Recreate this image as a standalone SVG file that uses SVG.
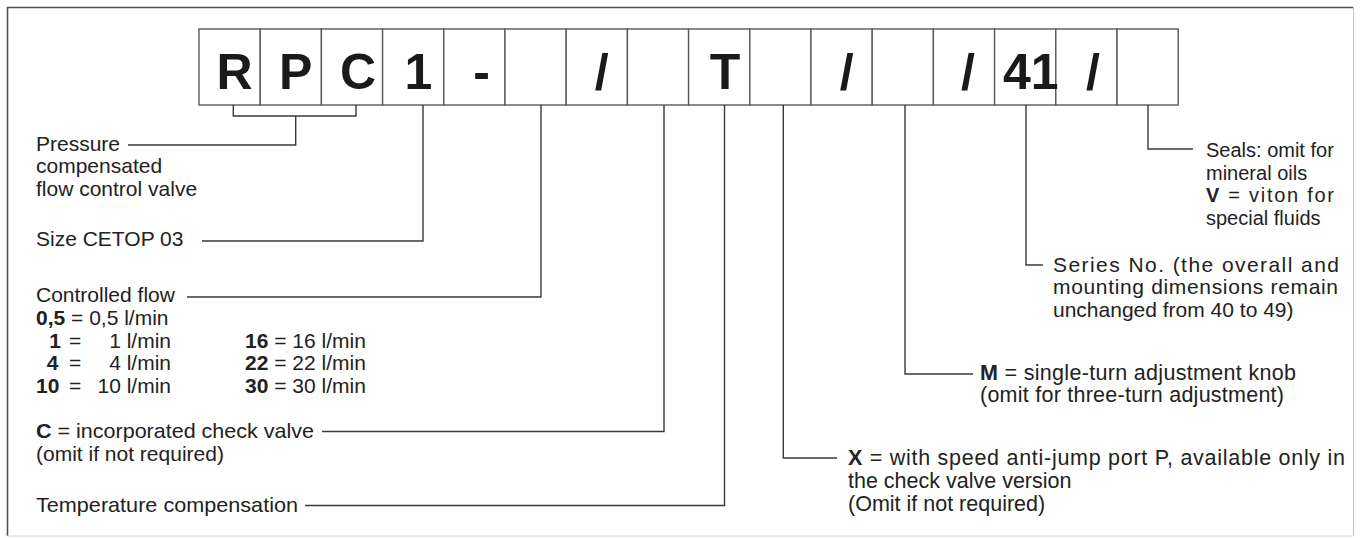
<svg xmlns="http://www.w3.org/2000/svg" width="1361" height="538" viewBox="0 0 1361 538">
<style>
.bg{fill:#ffffff}
.box{fill:#ffffff;stroke:#5a5a5a;stroke-width:1.4}
.code{font-family:"Liberation Sans",Arial,sans-serif;font-weight:bold;font-size:50px;fill:#1a1a1a;text-anchor:middle}
.t{font-family:"Liberation Sans",Arial,sans-serif;font-size:21px;fill:#222222}
.s20{font-size:20px}
.s215{font-size:21.5px}
.b{font-weight:bold}
.end{text-anchor:end}
.conn{fill:none;stroke:#3a3a3a;stroke-width:1.4}
</style>
<rect class="bg" x="0" y="0" width="1361" height="538"/>
<g id="frame">
<line x1="7" y1="7.5" x2="1353" y2="7.5" stroke="#505050" stroke-width="1.6"/>
<line x1="7.5" y1="7" x2="7.5" y2="536" stroke="#505050" stroke-width="1.6"/>
<line x1="1353.5" y1="7" x2="1353.5" y2="536" stroke="#c8c8c8" stroke-width="1.2"/>
<line x1="7" y1="536" x2="1353" y2="536" stroke="#d4d4d4" stroke-width="1.2"/>
</g>
<g id="code-boxes">
<rect class="box" x="199" y="29" width="61.2" height="76"/>
<rect class="box" x="260.2" y="29" width="61.2" height="76"/>
<rect class="box" x="321.4" y="29" width="61.2" height="76"/>
<rect class="box" x="382.6" y="29" width="61.2" height="76"/>
<rect class="box" x="443.8" y="29" width="61.2" height="76"/>
<rect class="box" x="505" y="29" width="61.2" height="76"/>
<rect class="box" x="566.2" y="29" width="61.2" height="76"/>
<rect class="box" x="627.4" y="29" width="61.2" height="76"/>
<rect class="box" x="688.6" y="29" width="61.2" height="76"/>
<rect class="box" x="749.8" y="29" width="61.2" height="76"/>
<rect class="box" x="811" y="29" width="61.2" height="76"/>
<rect class="box" x="872.2" y="29" width="61.2" height="76"/>
<rect class="box" x="933.4" y="29" width="61.2" height="76"/>
<rect class="box" x="994.6" y="29" width="61.2" height="76"/>
<rect class="box" x="1055.8" y="29" width="61.2" height="76"/>
<rect class="box" x="1117" y="29" width="61.2" height="76"/>
<text class="code" x="234.6" y="89">R</text>
<text class="code" x="295.7" y="89">P</text>
<text class="code" x="358" y="89">C</text>
<text class="code" x="418.4" y="89">1</text>
<text class="code" x="481.5" y="89">-</text>
<text class="code" x="601.7" y="89">/</text>
<text class="code" x="725" y="89">T</text>
<text class="code" x="846.7" y="89">/</text>
<text class="code" x="968" y="89">/</text>
<text class="code" x="1030.8" y="89">41</text>
<text class="code" x="1093" y="89">/</text>
</g>
<g id="connectors">
<path class="conn" d="M233.3,105 V116 H356 V105"/>
<path class="conn" d="M295.7,116 V145 H128"/>
<path class="conn" d="M423,105 V241 H202"/>
<path class="conn" d="M541,105 V297 H187"/>
<path class="conn" d="M664,105 V431.5 H322"/>
<path class="conn" d="M724.5,105 V505.5 H305"/>
<path class="conn" d="M783.3,105 V458 H837"/>
<path class="conn" d="M905,105 V374 H973"/>
<path class="conn" d="M1026,105 V265 H1043"/>
<path class="conn" d="M1148,105 V149 H1193"/>
</g>
<g id="label-pressure">
<text class="t" x="36" y="150.5">Pressure</text>
<text class="t" x="36" y="173.2">compensated</text>
<text class="t" x="36" y="195.9">flow control valve</text>
</g>
<g id="label-size">
<text class="t" x="36" y="246">Size CETOP 03</text>
</g>
<g id="label-flow">
<text class="t" x="36" y="302">Controlled flow</text>
<text class="t" x="36" y="325"><tspan class="b">0,5</tspan> = 0,5 l/min</text>
<text class="t b end" x="61" y="347.5">1</text>
<text class="t" x="69" y="347.5">=</text>
<text class="t end" x="171" y="347.5">1 l/min</text>
<text class="t b end" x="58.5" y="370">4</text>
<text class="t" x="69" y="370">=</text>
<text class="t end" x="171" y="370">4 l/min</text>
<text class="t b" x="36" y="392.5">10</text>
<text class="t" x="69" y="392.5">=</text>
<text class="t end" x="171" y="392.5">10 l/min</text>
<text class="t" x="245" y="347.5"><tspan class="b">16</tspan> = 16 l/min</text>
<text class="t" x="245" y="370"><tspan class="b">22</tspan> = 22 l/min</text>
<text class="t" x="245" y="392.5"><tspan class="b">30</tspan> = 30 l/min</text>
</g>
<g id="label-check">
<text class="t" x="36" y="438" textLength="278" lengthAdjust="spacingAndGlyphs"><tspan class="b">C</tspan> = incorporated check valve</text>
<text class="t" x="36" y="460.7">(omit if not required)</text>
</g>
<g id="label-temp">
<text class="t" x="36" y="512" textLength="262" lengthAdjust="spacingAndGlyphs">Temperature compensation</text>
</g>
<g id="label-seals">
<text class="t s20" x="1206" y="157">Seals: omit for</text>
<text class="t s20" x="1206" y="179.7">mineral oils</text>
<text class="t s20" x="1206" y="202.4" textLength="128" lengthAdjust="spacing"><tspan class="b">V</tspan> = viton for</text>
<text class="t s20" x="1206" y="225.1">special fluids</text>
</g>
<g id="label-series">
<text class="t" x="1053" y="271.5" textLength="286" lengthAdjust="spacing">Series No. (the overall and</text>
<text class="t" x="1053" y="294" textLength="285" lengthAdjust="spacing">mounting dimensions remain</text>
<text class="t" x="1053" y="316.5">unchanged from 40 to 49)</text>
</g>
<g id="label-knob">
<text class="t s215" x="980" y="379.5" textLength="316" lengthAdjust="spacing"><tspan class="b">M</tspan> = single-turn adjustment knob</text>
<text class="t s215" x="980" y="402" textLength="304" lengthAdjust="spacing">(omit for three-turn adjustment)</text>
</g>
<g id="label-antijump">
<text class="t s215" x="848" y="465" textLength="497" lengthAdjust="spacing"><tspan class="b">X</tspan> = with speed anti-jump port P, available only in</text>
<text class="t s215" x="848" y="488">the check valve version</text>
<text class="t s215" x="848" y="511">(Omit if not required)</text>
</g>
</svg>
